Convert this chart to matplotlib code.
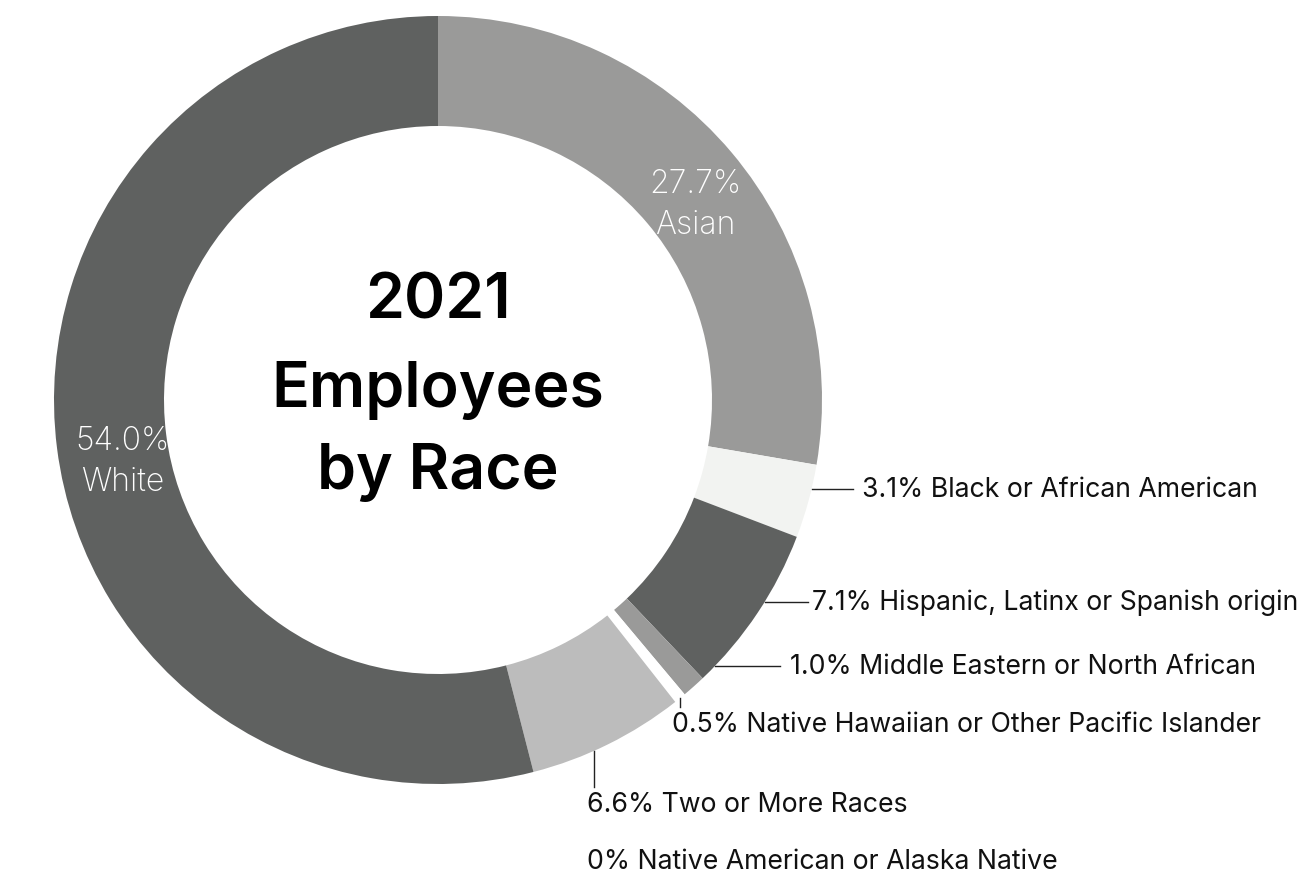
import matplotlib.pyplot as plt

plt.rcParams['font.family'] = ['Inter', 'DejaVu Sans']

races = ['Asian', 'Black or African American', 'Hispanic, Latinx or Spanish origin',
         'Middle Eastern or North African', 'Native Hawaiian or Other Pacific Islander',
         'Two or More Races', 'Native American or Alaska Native', 'White']
shares = [27.7, 3.1, 7.1, 1.0, 0.5, 6.6, 0.0, 54.0]
pct_text = ['27.7%', '3.1%', '7.1%', '1.0%', '0.5%', '6.6%', '0%', '54.0%']
colors = ['#9a9a99', '#f2f3f1', '#5f6160', '#9a9a99', '#ffffff', '#bcbcbc', '#bcbcbc', '#5f6160']

W, H = 1312, 879
cx, cy, R = 438, H - 401, 384

fig = plt.figure(figsize=(W / 100, H / 100), dpi=100)
ax = fig.add_axes([0, 0, 1, 1])
ax.pie(shares, colors=colors, radius=R, center=(cx, cy), startangle=90,
       counterclock=False, wedgeprops=dict(width=R - 274, linewidth=0))
ax.set_xlim(0, W)
ax.set_ylim(0, H)
ax.set_aspect('equal')
ax.axis('off')

# labels inside the ring
ax.text(695, H - 205, pct_text[0] + '\n' + races[0], color='white', fontsize=23,
        ha='center', va='center', fontweight='light', linespacing=1.38)
ax.text(123, H - 462, pct_text[7] + '\n' + races[7], color='white', fontsize=23,
        ha='center', va='center', fontweight='light', linespacing=1.38)

# outside labels with leader lines
lc = '#222222'
fs = 19.2
def hlabel(i, y, x_end, x_text):
    yy = H - y
    x0 = cx + (R ** 2 - (yy - cy) ** 2) ** 0.5
    ax.plot([x0, x_end], [yy, yy], color=lc, lw=1)
    ax.text(x_text, yy, pct_text[i] + ' ' + races[i], fontsize=fs, va='center', color='#111111')

def vlabel(i, x, y_end, x_text, y_text):
    y0 = cy - (R ** 2 - (x - cx) ** 2) ** 0.5
    ax.plot([x, x], [y0, H - y_end], color=lc, lw=1)
    ax.text(x_text, H - y_text, pct_text[i] + ' ' + races[i], fontsize=fs, va='center', color='#111111')

hlabel(1, 490, 853, 862)
hlabel(2, 603, 808, 812)
hlabel(3, 667, 780, 790)
vlabel(4, 680, 708, 672, 725)
vlabel(5, 594, 788, 587, 805)
ax.text(587, H - 862, pct_text[6] + ' ' + races[6], fontsize=fs, va='center', color='#111111')

# centre title
ax.text(cx, H - 302, '2021', fontsize=45, fontweight='semibold', ha='center', va='center')
ax.text(cx, H - 390, 'Employees', fontsize=45, fontweight='semibold', ha='center', va='center')
ax.text(cx, H - 473, 'by Race', fontsize=45, fontweight='semibold', ha='center', va='center')

fig.savefig('out.png', dpi=100)
